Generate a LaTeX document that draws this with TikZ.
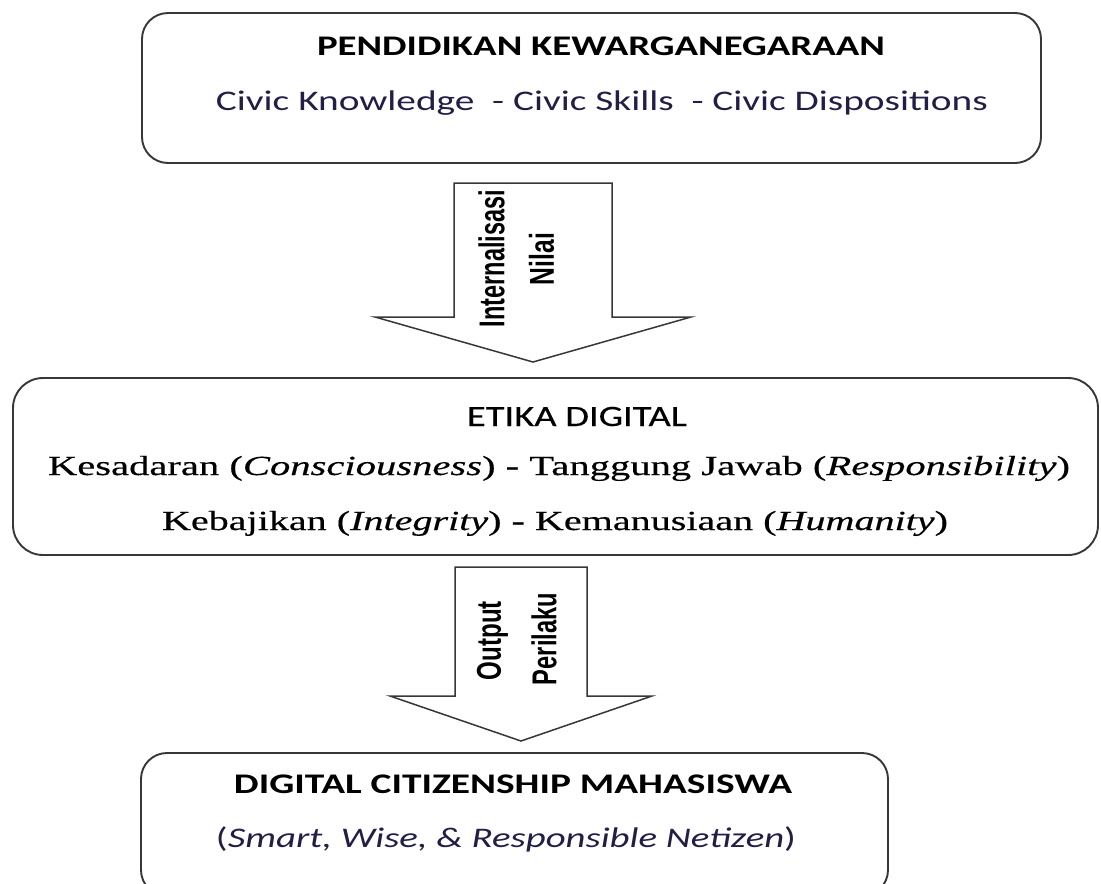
\documentclass[tikz,border=0pt]{standalone}
\usepackage{fontspec}
\setmainfont{Carlito}
\newfontfamily\serifcam[FakeBold=0.35]{Liberation Serif}
\newfontfamily\calmed[FakeBold=0.3]{Carlito}
\newfontfamily\arrowfont{Liberation Sans}
\usepackage{graphicx}
\definecolor{boxgray}{RGB}{55,55,55}
\definecolor{navytext}{RGB}{35,30,70}
\tikzset{
  box/.style={draw=boxgray, line width=1.9pt, fill=white, rounded corners=#1},
  box/.default=26pt,
  blockarrow/.style={draw=boxgray, line width=1.5pt, fill=white, line join=miter},
  txt/.style={inner sep=0pt, anchor=base},
  vtxt/.style={inner sep=0pt, rotate=90, anchor=center},
}
\begin{document}
\begin{tikzpicture}[x=1pt,y=-1pt]
\useasboundingbox (0,0) rectangle (1101,884);
\fill[white] (0,0) rectangle (1101,884);
\clip (0,0) rectangle (1101,884);

% boxes
\node[box=26pt, minimum width=899pt, minimum height=150pt] (b1) at (591.5,88) {};
\node[box=30pt, minimum width=1085pt, minimum height=177pt] (b2) at (555.5,466.5) {};
\node[box=26pt, minimum width=747pt, minimum height=143pt] (b3) at (514.5,824.5) {};

% block arrows
\draw[blockarrow] (454,183) -- (612,183) -- (612,317) -- (691,317) -- (533,362) -- (375,317) -- (454,317) -- cycle;
\draw[blockarrow] (455,567) -- (587,567) -- (587,696) -- (652,696) -- (521,741) -- (390,696) -- (455,696) -- cycle;

% box 1 text
\node[txt] (t1) at (601,55) {\resizebox{568pt}{\height}{\fontsize{28.4}{30}\selectfont\bfseries PENDIDIKAN KEWARGANEGARAAN}};
\node[txt, text=navytext] (t2) at (602,110) {\resizebox{772pt}{\height}{\fontsize{28.4}{30}\selectfont Civic Knowledge\ \ - Civic Skills\ \ - Civic Dispositions}};

% box 2 text
\node[txt] (t3) at (577,426) {\resizebox{220pt}{\height}{\fontsize{29.5}{30}\selectfont\calmed ETIKA DIGITAL}};
\node[txt] (t4) at (559,475) {\resizebox{1022pt}{\height}{\fontsize{27.6}{30}\selectfont\serifcam Kesadaran (\textit{Consciousness}) - Tanggung Jawab (\textit{Responsibility})}};
\node[txt] (t5) at (555,530) {\resizebox{786pt}{\height}{\fontsize{27.6}{30}\selectfont\serifcam Kebajikan (\textit{Integrity}) - Kemanusiaan (\textit{Humanity})}};

% box 3 text
\node[txt] (t6) at (513,793) {\resizebox{558pt}{\height}{\fontsize{28.4}{30}\selectfont\bfseries DIGITAL CITIZENSHIP MAHASISWA}};
\node[txt, text=navytext] (t7) at (506,847) {\resizebox{580pt}{\height}{\fontsize{28.4}{30}\selectfont (\textit{Smart, Wise, \& Responsible Netizen})}};

% arrow labels
\node[vtxt] (a1) at (491.5,258.5) {\resizebox{137pt}{26pt}{\arrowfont\bfseries Internalisasi}};
\node[vtxt] (a2) at (541.5,259) {\resizebox{52pt}{25pt}{\arrowfont\bfseries Nilai}};
\node[vtxt] (a3) at (492.5,640.5) {\resizebox{79pt}{24pt}{\arrowfont\bfseries Output}};
\node[vtxt] (a4) at (544,639) {\resizebox{92pt}{25pt}{\arrowfont\bfseries Perilaku}};
\end{tikzpicture}
\end{document}
